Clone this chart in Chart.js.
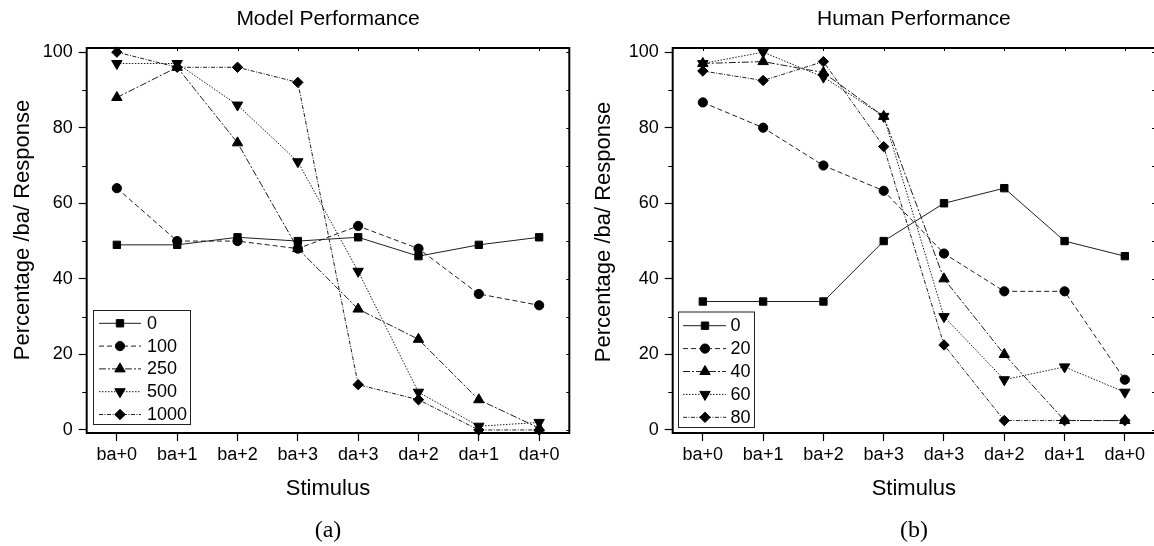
<!DOCTYPE html>
<html><head><meta charset="utf-8">
<script src="https://cdn.jsdelivr.net/npm/chart.js@4/dist/chart.umd.min.js"></script>
<style>
html,body{margin:0;padding:0;background:#fff;}
body{width:1154px;height:546px;overflow:hidden;position:relative;font-family:"Liberation Sans",Arial,sans-serif;}
#wa{position:absolute;left:0;top:0;width:577px;height:546px;}
#wb{position:absolute;left:577px;top:0;width:585px;height:546px;}
.cap{position:absolute;top:514px;font-family:"Liberation Serif","Times New Roman",serif;font-size:24px;width:80px;text-align:center;line-height:30px;color:#000}
</style></head>
<body>
<div id="wa"><canvas id="ca" width="577" height="546"></canvas></div>
<div id="wb"><canvas id="cb" width="585" height="546"></canvas></div>
<div class="cap" style="left:288px">(a)</div>
<div class="cap" style="left:874px">(b)</div>
<script>
// ---- data ----
const categories = ['ba+0','ba+1','ba+2','ba+3','da+3','da+2','da+1','da+0'];
const yTickValues = [0,20,40,60,80,100];
const yTickLabels = ['0','20','40','60','80','100'];
const yMinorValues = [10,30,50,70,90];

const modelTitle = 'Model Performance';
const modelLabels = ['0','100','250','500','1000'];
const model0    = [49,49,51,50,51,46,49,51];
const model100  = [64,50,50,48,54,48,36,33];
const model250  = [88,96,76,48,32,24,8,0.5];
const model500  = [97,97,86,71,42,10,1,2];
const model1000 = [100,96,96,92,12,8,0,0];

const humanTitle = 'Human Performance';
const humanLabels = ['0','20','40','60','80'];
const human0  = [34,34,34,50,60,64,50,46];
const human20 = [86.7,80,70,63.3,46.7,36.7,36.7,13.3];
const human40 = [97,97.5,94.6,83,40,20,2.5,2.5];
const human60 = [97,100,93.4,83,30,13.3,16.7,10];
const human80 = [95,92.5,97.5,75,22.5,2.5,2.5,2.5];

const xTitle = 'Stimulus';
const yTitle = 'Percentage /ba/ Response';

// ---- styles ----
const FONT = '"Liberation Sans", Arial, sans-serif';
const seriesStyles = [
  {pointStyle:'rect',     rotation:0,   radius:5.2, dash:[]},
  {pointStyle:'circle',   rotation:0,   radius:4.6, dash:[5,3]},
  {pointStyle:'triangle', rotation:0,   radius:6.0, dash:[7,2,2,2]},
  {pointStyle:'triangle', rotation:180, radius:6.0, dash:[1.5,1.5]},
  {pointStyle:'rectRot',  rotation:0,   radius:5.2, dash:[4,1.5,1,1.5]}
];

function makeDatasets(labels, series){
  return series.map((vals,i)=>{
    const s = seriesStyles[i];
    return {
      label: labels[i], data: vals,
      borderColor:'#1e1e1e', borderWidth:1, borderDash:s.dash,
      pointStyle:s.pointStyle, pointRotation:s.rotation, pointRadius:s.radius,
      pointHoverRadius:s.radius,
      pointBackgroundColor:'#000', pointBorderColor:'#000', pointBorderWidth:1,
      tension:0, fill:false, clip:8
    };
  });
}

const decor = {
  id:'decor',
  beforeDatasetsDraw(chart, args, o){
    const ctx = chart.ctx, a = chart.chartArea;
    const ys = chart.scales.y, xs = chart.scales.x;
    ctx.save();
    ctx.strokeStyle = '#000';
    // minor ticks outside left axis
    ctx.lineWidth = 1;
    yMinorValues.forEach(v=>{
      const y = Math.round(ys.getPixelForValue(v))+0.5;
      ctx.beginPath(); ctx.moveTo(a.left-4.5,y); ctx.lineTo(a.left,y); ctx.stroke();
    });
    // inner ticks on top and right frames
    categories.forEach((c,i)=>{
      const x = Math.round(xs.getPixelForValue(i))+0.5;
      ctx.beginPath(); ctx.moveTo(x,a.top); ctx.lineTo(x,a.top+3); ctx.stroke();
    });
    yTickValues.concat(yMinorValues).forEach(v=>{
      const y = Math.round(ys.getPixelForValue(v))+0.5;
      ctx.beginPath(); ctx.moveTo(a.right,y); ctx.lineTo(a.right-3,y); ctx.stroke();
    });
    // frame
    ctx.lineWidth = 2;
    ctx.strokeRect(a.left, a.top, a.right-a.left, a.bottom-a.top);
    // y title
    ctx.fillStyle = '#000';
    ctx.font = '22px ' + FONT;
    ctx.textAlign = 'center'; ctx.textBaseline = 'middle';
    ctx.translate(o.yTitleX, o.yTitleY);
    ctx.rotate(-Math.PI/2);
    ctx.fillText(yTitle, 0, 0);
    ctx.restore();
  },
  afterDatasetsDraw(chart, args, o){
    const ctx = chart.ctx, lg = o.legend;
    ctx.save();
    ctx.fillStyle = '#fff';
    ctx.fillRect(lg.x0, lg.y0, lg.x1-lg.x0, lg.y1-lg.y0);
    ctx.strokeStyle = '#222'; ctx.lineWidth = 1;
    ctx.strokeRect(lg.x0+0.5, lg.y0+0.5, lg.x1-lg.x0, lg.y1-lg.y0);
    chart.data.datasets.forEach((ds,i)=>{
      const y = lg.rowY + i*lg.rowStep;
      ctx.strokeStyle = ds.borderColor; ctx.lineWidth = 1;
      ctx.setLineDash(ds.borderDash);
      ctx.beginPath(); ctx.moveTo(lg.lineX0,y); ctx.lineTo(lg.lineX1,y); ctx.stroke();
      ctx.setLineDash([]);
      ctx.fillStyle = '#000'; ctx.strokeStyle = '#000';
      Chart.helpers.drawPoint(ctx, {pointStyle:ds.pointStyle, rotation:ds.pointRotation, radius:ds.pointRadius, borderWidth:1}, lg.markX, y);
      ctx.font = '18px ' + FONT; ctx.textAlign = 'left'; ctx.textBaseline = 'middle';
      ctx.fillText(ds.label, lg.textX, y+0.5);
    });
    ctx.restore();
  }
};

function makeChart(id, title, datasets, yWidth, padRight, yTitlePos, legend){
  return new Chart(document.getElementById(id), {
    type:'line',
    data:{labels:categories, datasets},
    plugins:[decor],
    options:{
      responsive:false, animation:false,
      layout:{padding:{left:0,right:padRight,top:0,bottom:0}},
      plugins:{
        legend:{display:false}, tooltip:{enabled:false},
        title:{display:true, text:title, fullSize:false, color:'#000',
               font:{family:FONT, size:21, weight:'normal'}, padding:{top:7,bottom:15.8}},
        decor:{yTitleX:yTitlePos[0], yTitleY:yTitlePos[1], legend}
      },
      scales:{
        x:{type:'category', offset:true,
           grid:{offset:false, drawOnChartArea:false, tickLength:8, color:'#000', tickWidth:1.2},
           border:{display:false},
           ticks:{font:{family:FONT,size:18}, color:'#000', padding:3, maxRotation:0, autoSkip:false},
           title:{display:true, text:xTitle, color:'#000', font:{family:FONT,size:22}, padding:{top:0,bottom:44}},
           afterFit(s){ s.height = 113; }
        },
        y:{type:'linear', min:-0.8, max:101.1,
           afterBuildTicks(s){ s.ticks = yTickValues.map(v=>({value:v})); },
           grid:{drawOnChartArea:false, tickLength:8, color:'#000', tickWidth:1.2},
           border:{display:false},
           ticks:{font:{family:FONT,size:18}, color:'#000', padding:6,
                  callback:(v,i)=>yTickLabels[i]},
           afterFit(s){ s.width = yWidth; }
        }
      }
    }
  });
}

makeChart('ca', modelTitle,
  makeDatasets(modelLabels,[model0,model100,model250,model500,model1000]),
  86.7, 7.7, [22.5,230],
  {x0:93,y0:310,x1:190,y1:424,rowY:323.3,rowStep:22.8,lineX0:99,lineX1:141,markX:120,textX:147});

makeChart('cb', humanTitle,
  makeDatasets(humanLabels,[human0,human20,human40,human60,human80]),
  95.7, 6.7, [27,232],
  {x0:101,y0:311.5,x1:177,y1:427,rowY:325.7,rowStep:22.9,lineX0:106,lineX1:149,markX:128,textX:153.5});
</script>
</body></html>
